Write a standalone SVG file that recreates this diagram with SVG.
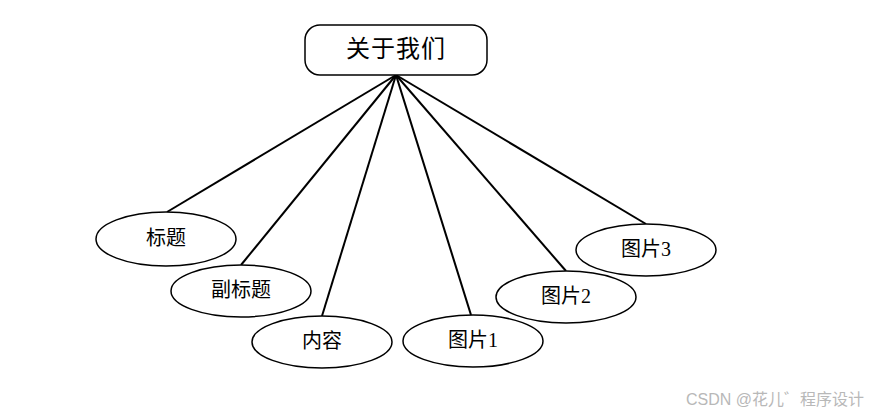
<svg xmlns="http://www.w3.org/2000/svg" width="871" height="415" viewBox="0 0 871 415">
<style>
.n{fill:#fff;stroke:#000;stroke-width:1.5}
.t{font-family:"Liberation Serif","Noto Sans CJK SC",serif;font-size:20px;fill:#000;text-anchor:middle;dominant-baseline:central}
.c line{stroke:#000;stroke-width:2}
.w{font-family:"Liberation Sans","Noto Sans CJK SC",sans-serif;font-size:16px;fill:#b8b8b8}
</style>
<rect width="871" height="415" fill="#fff"/>
<g class="c" id="connectors">
<line x1="396" y1="75" x2="167" y2="212"/>
<line x1="396" y1="75" x2="241" y2="265"/>
<line x1="396" y1="75" x2="322" y2="316"/>
<line x1="396" y1="75" x2="471" y2="315"/>
<line x1="396" y1="75" x2="566" y2="271"/>
<line x1="396" y1="75" x2="646" y2="224"/>
</g>
<g id="about"><rect class="n" x="305" y="25" width="182" height="50" rx="15"/><text class="t" x="396" y="49" style="font-size:24px;letter-spacing:1px">关于我们</text></g>
<g id="title"><ellipse class="n" cx="166" cy="239" rx="70" ry="27"/><text class="t" x="166" y="238">标题</text></g>
<g id="subtitle"><ellipse class="n" cx="241" cy="291" rx="70" ry="26"/><text class="t" x="241" y="290">副标题</text></g>
<g id="content"><ellipse class="n" cx="322" cy="342" rx="70" ry="26"/><text class="t" x="322" y="341">内容</text></g>
<g id="img1"><ellipse class="n" cx="473" cy="341" rx="70" ry="26"/><text class="t" x="473" y="340">图片1</text></g>
<g id="img2"><ellipse class="n" cx="566" cy="297" rx="70" ry="26"/><text class="t" x="566" y="296">图片2</text></g>
<g id="img3"><ellipse class="n" cx="646" cy="250" rx="70" ry="26"/><text class="t" x="646" y="249">图片3</text></g>
<text class="w" x="686" y="405">CSDN @花儿゛程序设计</text>
</svg>
